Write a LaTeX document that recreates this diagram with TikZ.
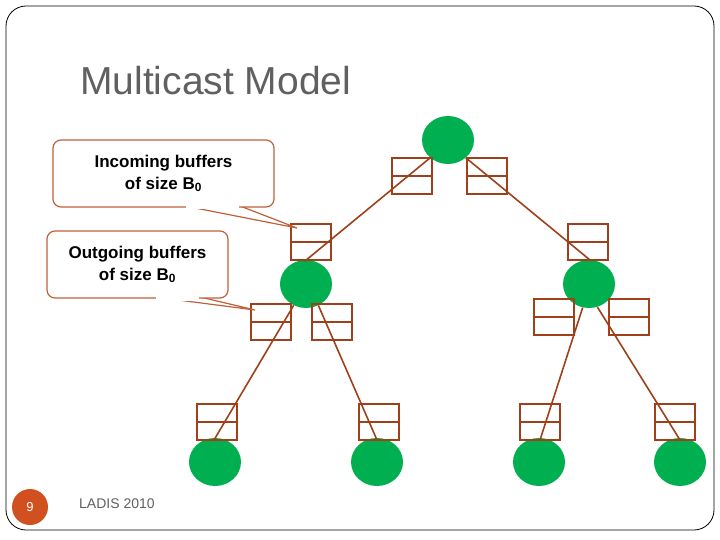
\documentclass[tikz,border=0pt]{standalone}
\usepackage{fontspec}
\setmainfont{Liberation Sans}
\begin{document}
\begin{tikzpicture}[x=1pt,y=-1pt,
  br/.style={draw=brn,line width=1.6pt},
  nd/.style={ellipse,fill=grn,minimum width=52pt,minimum height=48pt,inner sep=0},
  buf/.style={draw=brn,line width=1.5pt,minimum width=40pt,minimum height=36pt,inner sep=0,
    path picture={\draw[brn,line width=1.5pt](path picture bounding box.west)--(path picture bounding box.east);}},
  call/.style={draw=callc,line width=1.2pt,fill=white,rounded corners=8pt,align=center,font=\bfseries\fontsize{17}{22}\selectfont,inner sep=0}]
\definecolor{brn}{HTML}{A0401A}
\definecolor{callc}{HTML}{C0603A}
\definecolor{grn}{HTML}{00B050}
\definecolor{gry}{HTML}{606060}
\definecolor{pgc}{HTML}{D05020}
\useasboundingbox (0,0) rectangle (720,540);
\usetikzlibrary{shapes.geometric}
\draw[line width=0.8pt,rounded corners=20pt] (6,6) rectangle (714,530);
\node[anchor=base west,text=gry,font=\fontsize{39}{44}\selectfont,inner sep=0] (title) at (80,95) {Multicast Model};
\node[circle,fill=pgc,minimum size=36pt,inner sep=0,text=white,font=\fontsize{13}{15}\selectfont] (pg) at (30,507) {9};
\node[anchor=base west,text=gry,font=\fontsize{14}{16}\selectfont,inner sep=0] (foot) at (79,508) {LADIS 2010};
% nodes
\node[nd] (r) at (448,140) {};
\node[nd] (ml) at (306,284) {};
\node[nd] (mr) at (589,284) {};
\node[nd] (l1) at (215,462) {};
\node[nd] (l2) at (377,462) {};
\node[nd] (l3) at (539,462) {};
\node[nd] (l4) at (680,462) {};
% buffers
\node[buf] (b1) at (412,176) {};
\node[buf] (b2) at (487,176) {};
\node[buf] (b3) at (311,242) {};
\node[buf] (b4) at (588,242) {};
\node[buf] (b5) at (271,322) {};
\node[buf] (b6) at (332,322) {};
\node[buf] (b7) at (554,317) {};
\node[buf] (b8) at (629,317) {};
\node[buf] (b9) at (217,422) {};
\node[buf] (b10) at (379,422) {};
\node[buf] (b11) at (540,422) {};
\node[buf] (b12) at (675,422) {};
% edges
\coordinate (e1) at (305,261); \coordinate (e2) at (590,260);
\coordinate (e3) at (214,440); \coordinate (e4) at (377,440);
\coordinate (e5) at (540,440); \coordinate (e6) at (680,440);
\draw[br] (r.225) -- (e1);
\draw[br] (r.315) -- (e2);
\draw[br] (ml.240) -- (e3);
\draw[br] (ml.300) -- (e4);
\draw[br] (mr.255) -- (e5);
\draw[br] (mr.290) -- (e6);
% callouts
\coordinate (t1) at (297,228); \coordinate (t2) at (255,310);
\draw[draw=callc,line width=1.2pt,fill=white] (185,206) -- (t1) -- (240,206);
\node[call,minimum width=221pt,minimum height=67pt] (c1) at (163.5,173.5) {Incoming buffers\\of size B\textsubscript{0}};
\draw[draw=callc,line width=1.2pt,fill=white] (155,297) -- (t2) -- (200,297);
\node[call,minimum width=181pt,minimum height=67pt] (c2) at (137.5,264.5) {Outgoing buffers\\of size B\textsubscript{0}};
\fill[white] (186,204) rectangle (239,209.5);
\fill[white] (156,295) rectangle (199,300.5);
\end{tikzpicture}
\end{document}
